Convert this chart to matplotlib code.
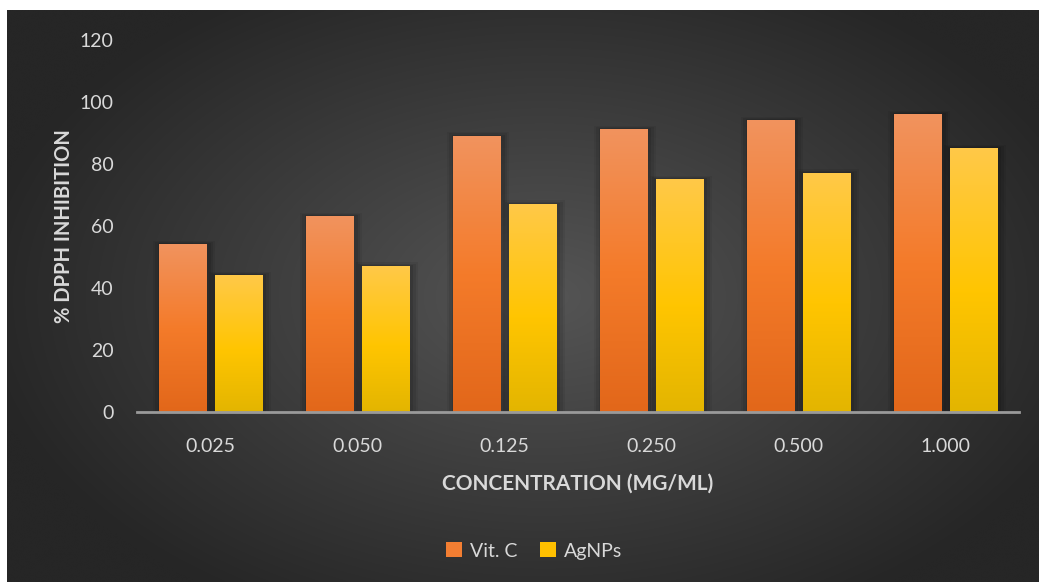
import numpy as np
import matplotlib
matplotlib.use("Agg")
import matplotlib.pyplot as plt
from matplotlib.colors import LinearSegmentedColormap, to_rgb
from matplotlib.patches import Rectangle

concentrations = ["0.025", "0.050", "0.125", "0.250", "0.500", "1.000"]
vit_c = [54, 63, 89, 91, 94, 96]
agnps = [44, 47, 67, 75, 77, 85]
series_names = ["Vit. C", "AgNPs"]

W, H = 1039, 582
fig = plt.figure(figsize=(W / 100, H / 100), dpi=100)
fig.patch.set_facecolor("white")

# dark radial background panel
bg = fig.add_axes([7 / W, 0, 1 - 7 / W, 572 / H], zorder=-10)
ny, nx = 300, 540
yy, xx = np.mgrid[0:ny, 0:nx]
cx, cy = nx * 0.52, ny * 0.50
r = np.sqrt(((xx - cx) / (nx * 0.55)) ** 2 + ((yy - cy) / (ny * 0.62)) ** 2)
r = np.clip(r, 0, 1)
c_in = np.array(to_rgb("#555555"))
c_out = np.array(to_rgb("#262626"))
img = c_in[None, None, :] * (1 - r[..., None]) + c_out[None, None, :] * r[..., None]
bg.imshow(img, extent=[0, 1, 0, 1], aspect="auto", interpolation="bicubic")
bg.set_xlim(0, 1)
bg.set_ylim(0, 1)
bg.axis("off")

ax = fig.add_axes([137 / W, (H - 412) / H, (1019 - 137) / W, (412 - 40) / H])
ax.patch.set_alpha(0)

cmap_vit = LinearSegmentedColormap.from_list(
    "vit", [(0, "#E2671A"), (0.5, "#F47B2A"), (1, "#F1935E")])
cmap_ag = LinearSegmentedColormap.from_list(
    "ag", [(0, "#E3B500"), (0.45, "#FFC500"), (1, "#FFC948")])

x = np.arange(len(concentrations))
width = 0.32
offset = 0.19
grad = np.linspace(0, 1, 256).reshape(-1, 1)

for vals, off, cmap in [(vit_c, -offset, cmap_vit), (agnps, offset, cmap_ag)]:
    bars = ax.bar(x + off, vals, width, color="none", zorder=3)
    for b in bars:
        x0, w, h = b.get_x(), b.get_width(), b.get_height()
        # soft shadow
        for k, a in [(0.05, 0.06), (0.035, 0.08), (0.02, 0.10)]:
            ax.add_patch(Rectangle((x0 - k + 0.01, 0), w + 2 * k, h + k * 25,
                                   facecolor="black", alpha=a, edgecolor="none", zorder=2))
        ax.imshow(grad, cmap=cmap, extent=[x0, x0 + w, 0, h], origin="lower",
                  aspect="auto", zorder=4, interpolation="bicubic")

ax.set_xlim(-0.5, len(concentrations) - 0.5)
ax.set_ylim(0, 120)
ax.set_yticks(np.arange(0, 121, 20))
ax.set_xticks(x)
ax.set_xticklabels(concentrations)

for s in ["top", "right", "left"]:
    ax.spines[s].set_visible(False)
ax.spines["bottom"].set_color("#9a9a9a")
ax.spines["bottom"].set_linewidth(2)
ax.spines["bottom"].set_zorder(5)
ax.tick_params(axis="both", length=0, colors="#d9d9d9", labelsize=14)
ax.tick_params(axis="y", pad=17)
ax.tick_params(axis="x", pad=19)
for lab in ax.get_xticklabels() + ax.get_yticklabels():
    lab.set_family("Lato")

ax.set_xlabel("CONCENTRATION (MG/ML)", fontsize=15, fontweight="bold",
              color="#d9d9d9", family="Lato", labelpad=13)
ax.set_ylabel("% DPPH INHIBITION", fontsize=14.5, fontweight="bold",
              color="#d9d9d9", family="Lato", labelpad=4)

handles = [Rectangle((0, 0), 1, 1, facecolor="#F37E32"),
           Rectangle((0, 0), 1, 1, facecolor="#FFC000")]
fig.legend(handles, series_names, loc="center", bbox_to_anchor=(534 / W, 1 - 551 / H),
           ncol=2, frameon=False, handlelength=0.8, handleheight=0.8,
           handletextpad=0.4, columnspacing=1.2,
           prop={"family": "Lato", "size": 14}, labelcolor="#d9d9d9")

fig.savefig("out.png", dpi=100, facecolor=fig.get_facecolor())
